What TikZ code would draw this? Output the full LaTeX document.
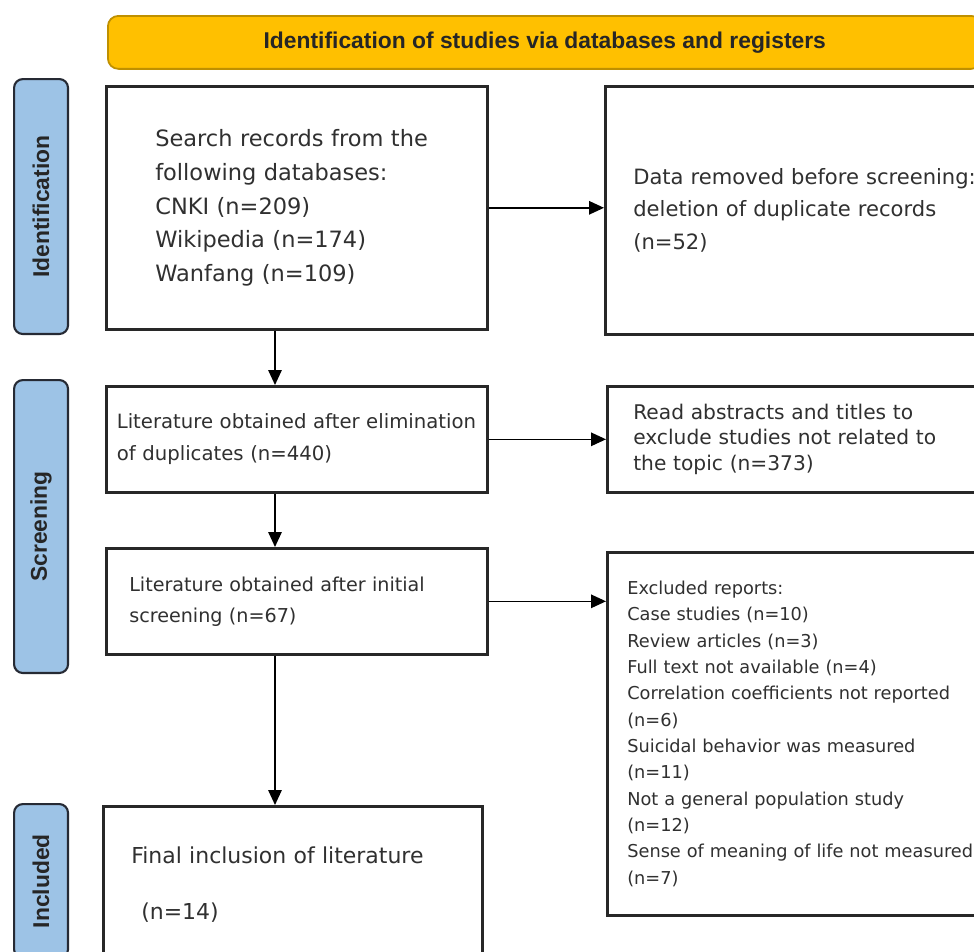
\documentclass[tikz,border=0pt]{standalone}
\usepackage{fontspec}
\setmainfont{DejaVu Sans}
\newfontfamily\headfont{Liberation Sans}
\usepackage{tikz}
\usetikzlibrary{arrows.meta}
\definecolor{bannerfill}{RGB}{255,192,0}
\definecolor{bannerline}{RGB}{191,144,0}
\definecolor{stagefill}{RGB}{157,195,230}
\definecolor{stageline}{RGB}{38,42,52}
\definecolor{textgray}{RGB}{48,48,48}
\definecolor{boxline}{RGB}{40,40,40}

\tikzset{
  box/.style={draw=boxline, line width=1.5pt, fill=white, anchor=north west, align=left, text=textgray, inner ysep=0pt},
  stage/.style={draw=stageline, line width=1.2pt, fill=stagefill, rounded corners=5pt, anchor=north west, minimum width=1.08cm, inner sep=0pt},
  flow/.style={-{Triangle[length=0.3cm,width=0.27cm]}, line width=0.85pt, black}
}

\begin{document}
\begin{tikzpicture}[x=0.02cm, y=-0.02cm]
        \useasboundingbox (0,0) rectangle (974,951);
        \clip (0,0) rectangle (974,951);
        \fill[white] (0,0) rectangle (974,951);

        % Banner
        \node[anchor=north west, draw=bannerline, fill=bannerfill, line width=1pt, rounded corners=6pt,
                minimum width=17.48cm, minimum height=1.06cm, text=black!85] (banner) at (107,15)
                {\headfont\bfseries\fontsize{13}{15}\selectfont Identification of studies via databases and registers};

        % Stage bars
        \foreach \y/\h/\nodeid/\stagename in {78/5.1/sideid/Identification, 379/5.86/sidescr/Screening, 803/3.08/sideinc/Included} {
        \node[stage, minimum height=\h cm] (\nodeid) at (13,\y) {\rotatebox{90}{\headfont\bfseries\fontsize{13}{15}\selectfont\color{black!85}\stagename}};
        }

        % Left column
        \node[box, minimum width=7.62cm, minimum height=4.86cm, text width=5.66cm, inner xsep=0.98cm,
                font={\fontsize{12.8}{19.3}\selectfont}] (search) at (105,85)
                {Search records from the\\following databases:\\CNKI (n=209)\\Wikipedia (n=174)\\Wanfang (n=109)};
        \node[box, minimum width=7.62cm, minimum height=2.12cm, text width=7.2cm, inner xsep=0.21cm,
                font={\fontsize{11.2}{18.1}\selectfont}] (dedup) at (105,385)
                {Literature obtained after elimination\\of duplicates (n=440)};
        \node[box, minimum width=7.62cm, minimum height=2.12cm, text width=6.7cm, inner xsep=0.46cm,
                font={\fontsize{10.9}{17.6}\selectfont}] (screened) at (105,547)
                {Literature obtained after initial\\screening (n=67)};
        \node[box, minimum width=7.58cm, minimum height=3.12cm, text width=6.46cm, inner xsep=0.56cm,
                font={\fontsize{12.5}{18.5}\selectfont}] (final) at (102,805)
                {Final inclusion of literature\\[13.2pt]\hspace*{0.2cm}(n=14)};

        % Right column
        \node[box, minimum width=8.4cm, minimum height=4.96cm, text width=7.28cm, inner xsep=0.56cm,
                font={\fontsize{12}{18.7}\selectfont}] (removed) at (604,85)
                {Data removed before screening:\\deletion of duplicate records\\(n=52)};
        \node[box, minimum width=8.4cm, minimum height=2.12cm, text width=7.36cm, inner xsep=0.52cm,
                font={\fontsize{11.5}{14.7}\selectfont}] (abstracts) at (606,385)
                {Read abstracts and titles to\\exclude studies not related to\\the topic (n=373)};
        \node[box, minimum width=8.4cm, minimum height=7.26cm, text width=7.6cm, inner xsep=0.4cm,
                font={\fontsize{10.1}{15}\selectfont}] (excluded) at (606,551)
                {Excluded reports:\\Case studies (n=10)\\Review articles (n=3)\\Full text not available (n=4)\\
                Correlation coefficients not reported\\(n=6)\\Suicidal behavior was measured\\(n=11)\\
                Not a general population study\\(n=12)\\Sense of meaning of life not measured\\(n=7)};

        % Connectors
        \coordinate (axis) at (275,0);
        \draw[flow] (search.south -| axis) -- (dedup.north -| axis);
        \draw[flow] (dedup.south -| axis) -- (screened.north -| axis);
        \draw[flow] (screened.south -| axis) -- (final.north -| axis);
        \draw[flow] (search.east) -- (search.east -| removed.west);
        \draw[flow] (dedup.east) -- (dedup.east -| abstracts.west);
        \draw[flow] (screened.east) -- (screened.east -| excluded.west);
    \end{tikzpicture}
\end{document}
